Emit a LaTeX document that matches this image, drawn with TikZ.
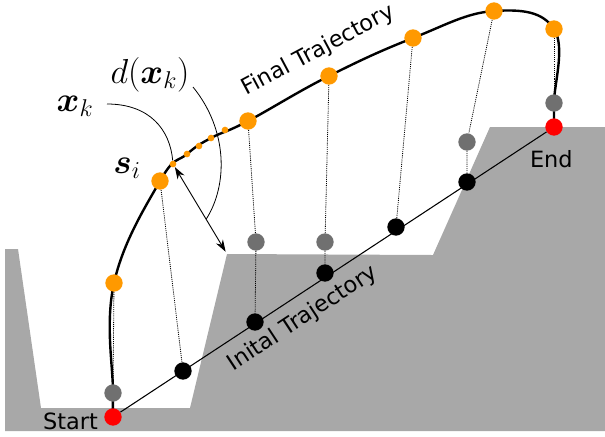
\RequirePackage{fix-cm}
\documentclass[tikz,border=0pt]{standalone}
\usepackage{amsmath}
\usepackage{fontspec}
\newfontfamily\labelfont{DejaVu Sans}
\usetikzlibrary{arrows.meta,positioning,backgrounds,calc}
\definecolor{trajorange}{HTML}{FF9900}
\definecolor{projgray}{HTML}{707070}
\definecolor{terrain}{HTML}{A8A8A8}
\definecolor{endred}{HTML}{FF0000}

\begin{document}
\begin{tikzpicture}[
  x=0.75pt, y=-0.75pt,
  pnt/.style={circle, inner sep=0pt, minimum size=13pt},
  fin/.style={pnt, fill=trajorange},
  ini/.style={pnt, fill=black},
  prj/.style={pnt, fill=projgray},
  term/.style={pnt, fill=endred},
  smp/.style={circle, inner sep=0pt, minimum size=5pt, fill=trajorange},
  link/.style={dash pattern=on 0.8pt off 0.8pt, line width=0.6pt},
  lbl/.style={font=\labelfont\fontsize{16.8}{20}\selectfont, inner sep=0pt},
  mlbl/.style={font=\fontsize{26}{30}\selectfont, inner sep=0pt},
  lead/.style={line width=0.6pt}
]
\useasboundingbox (0,0) rectangle (605,436);

% start / end and initial trajectory
\node[term] (s0) at (113,417) {};
\node[term] (s6) at (554,127) {};
\node[ini] (b1) at (183,371) {};
\node[ini] (b2) at (255,322) {};
\node[ini] (b3) at (325,273) {};
\node[ini] (b4) at (396,227) {};
\node[ini] (b5) at (467,182) {};

% projections
\node[prj] (g0) at (113,393) {};
\node[prj] (g2) at (256,242) {};
\node[prj] (g3) at (325,242) {};
\node[prj] (g5) at (467,142) {};
\node[prj] (g6) at (554,103) {};

% final trajectory
\node[fin] (o0) at (114,283) {};
\node[fin] (si) at (160,181) {};
\node[fin] (o2) at (248,121) {};
\node[fin] (o3) at (329,76) {};
\node[fin] (o4) at (413,38) {};
\node[fin] (o5) at (494,11) {};
\node[fin] (o6) at (554,29) {};

% samples x_k
\node[smp] (x1) at (173,164) {};
\node[smp] (x2) at (187,154) {};
\node[smp] (x3) at (199,146) {};
\node[smp] (x4) at (211,138) {};
\node[smp] (x5) at (225,130) {};

% labels
\node[lbl, left=4.5pt of s0, yshift=-3pt] (startlbl) {Start};
\node[lbl, below=11pt of s6, xshift=-2pt] (endlbl) {End};
\node[lbl, rotate=28, anchor=base west] (finlbl) at (246,96) {Final Trajectory};
\node[mlbl] (lsi) at (127,168) {$\boldsymbol{s}_i$};
\node[mlbl] (lxk) at (75,106) {$\boldsymbol{x}_k$};
\node[mlbl] (ld) at (150,75) {$d(\boldsymbol{x}_k)$};

\begin{scope}[on background layer]
\fill[terrain] (5,431) -- (5,249) -- (18,249) -- (41,408) -- (190,408)
  -- (227,254) coordinate (corner) -- (433,255) -- (490,127) -- (605,127)
  -- (605,431) -- cycle;
\draw[line width=0.8pt] (s0) -- node[lbl, sloped, below=8pt, pos=0.4] (inilbl) {Inital Trajectory} (s6);
\draw[line width=1.8pt] plot[smooth, tension=0.7] coordinates
  {(s0) (g0) (o0) (si) (x2) (x4) (o2) (o3) (o4) (o5) (o6) (g6) (s6)};
\draw[link] (o0) -- (g0);
\draw[link] (si) -- (b1);
\draw[link] (o2) -- (g2) -- (b2);
\draw[link] (o3) -- (g3) -- (b3);
\draw[link] (o4) -- (b4);
\draw[link] (o5) -- (g5) -- (b5);
\draw[link] (o6) -- (g6);
\end{scope}

% distance
\draw[{Stealth[length=9pt,width=6pt]}-{Stealth[length=9pt,width=6pt]}, line width=0.7pt, shorten >=2pt]
  (x1) -- coordinate[pos=0.6] (dmid) (corner);
\draw[lead] (107,104) .. controls (150,104) and (170,130) .. (x1);
\draw[lead] (193,87) .. controls (228,130) and (228,185) .. (dmid);
\end{tikzpicture}
\end{document}
